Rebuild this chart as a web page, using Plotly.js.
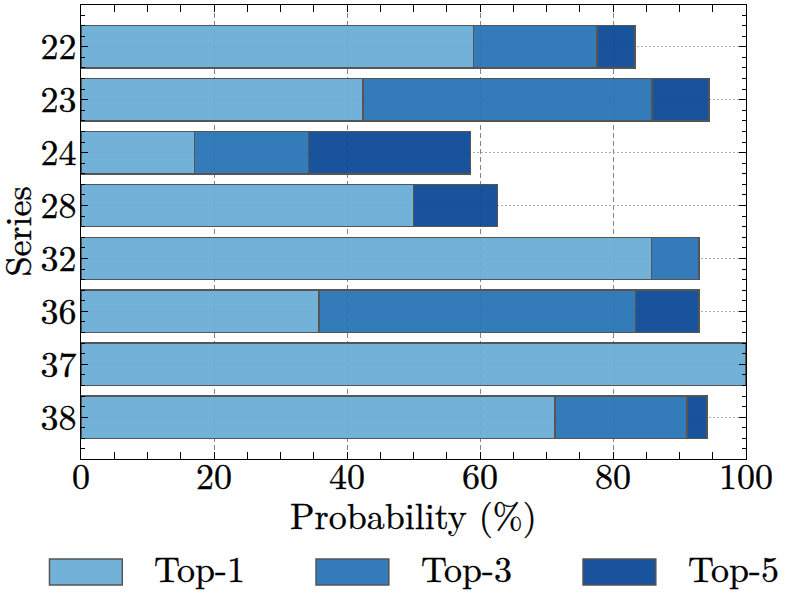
<!DOCTYPE html>
<html>
<head>
<meta charset="utf-8">
<script src="https://cdn.plot.ly/plotly-3.0.1.min.js"></script>
<style>
html,body{margin:0;padding:0;background:#fff;}
#chart{width:797px;height:611px;}
#chart text{stroke:#000;stroke-width:0.35px;}
</style>
</head>
<body>
<div id="chart"></div>
<script>
// Data
const categories = ['22', '23', '24', '28', '32', '36', '37', '38'];
const seriesNames = ['Top-1', 'Top-3', 'Top-5'];
const top1 = [59.0, 42.4, 17.1, 50.0, 85.8, 35.8, 100, 71.3];
const top3 = [18.6, 43.5, 17.1, 0, 7.1, 47.6, 0, 19.8];
const top5 = [5.7, 8.5, 24.4, 12.6, 0, 9.5, 0, 3.0];
const colors = ['rgba(107,174,214,0.95)', 'rgba(40,116,181,0.95)', 'rgba(12,74,150,0.95)'];
const xTitle = 'Probability (%)';
const yTitle = 'Series';

const values = [top1, top3, top5];
const FONT = 'Latin Modern Roman';
const FS = 36;

function draw() {
  const traces = values.map((v, i) => ({
    type: 'bar',
    orientation: 'h',
    name: seriesNames[i],
    x: v,
    y: categories,
    width: 0.8,
    marker: {color: colors[i], line: {color: '#555', width: 1.5}},
    showlegend: false,
    hoverinfo: 'x+name'
  }));

  // custom legend (large swatches like the reference)
  const legX = [-0.0474, 0.3534, 0.7549];
  const swW = 0.1095;
  const shapes = [];
  const annotations = [];
  seriesNames.forEach((n, i) => {
    shapes.push({type: 'rect', xref: 'paper', yref: 'paper',
      x0: legX[i], x1: legX[i] + swW, y0: -0.2775, y1: -0.2203,
      fillcolor: colors[i], line: {color: '#555', width: 1.5}});
    annotations.push({xref: 'paper', yref: 'paper', x: legX[i] + swW + 0.045, y: -0.237,
      xanchor: 'left', yanchor: 'middle', text: n, showarrow: false,
      font: {family: FONT, size: FS, color: '#000'}});
  });
  // axis titles
  annotations.push({xref: 'paper', yref: 'paper', x: 0.5, y: -0.121,
    xanchor: 'center', yanchor: 'middle', text: xTitle, showarrow: false,
    font: {family: FONT, size: FS, color: '#000'}});
  annotations.push({xref: 'paper', yref: 'paper', x: -0.1, y: 0.5, textangle: -90,
    xanchor: 'center', yanchor: 'middle', text: yTitle, showarrow: false,
    font: {family: FONT, size: FS, color: '#000'}});

  const layout = {
    width: 797, height: 611,
    margin: {l: 81, r: 51, t: 5, b: 152},
    paper_bgcolor: '#fff', plot_bgcolor: '#fff',
    barmode: 'stack',
    font: {family: FONT, size: FS, color: '#000'},
    xaxis: {
      range: [0, 100], dtick: 20, tick0: 0,
      ticks: 'inside', ticklen: 7, tickwidth: 1, tickcolor: '#000',
      mirror: 'allticks', showline: true, linecolor: '#000', linewidth: 1.2,
      showgrid: true, gridcolor: '#666', griddash: '5px,3px', gridwidth: 0.8,
      zeroline: false,
      minor: {dtick: 5, ticks: 'inside', ticklen: 4, tickcolor: '#000', showgrid: false},
      tickfont: {family: FONT, size: FS, color: '#000'},
      ticklabelstandoff: -14,
      automargin: false
    },
    yaxis: {
      type: 'category', range: [7.79, -0.79],
      ticks: 'inside', ticklen: 7, tickcolor: '#000',
      mirror: 'allticks', showline: true, linecolor: '#000', linewidth: 1.2,
      showgrid: true, gridcolor: '#999', griddash: '2px,2px', gridwidth: 0.8,
      zeroline: false,
      tickfont: {family: FONT, size: FS, color: '#000'},
      ticklabelstandoff: -4,
      automargin: false
    },
    yaxis2: {
      overlaying: 'y', anchor: 'x', side: 'left',
      range: [7.79, -0.79], dtick: 1, tick0: 0,
      ticks: 'inside', ticklen: 7, tickcolor: '#000',
      mirror: 'allticks', showticklabels: false, showgrid: false, zeroline: false,
      showline: false,
      minor: {dtick: 0.2, tick0: 0, ticks: 'inside', ticklen: 4, tickcolor: '#000', showgrid: false}
    },
    shapes: shapes,
    annotations: annotations
  };

  // a dummy invisible trace to activate yaxis2
  traces.push({type: 'scatter', x: [null], y: [null], yaxis: 'y2', showlegend: false, hoverinfo: 'skip'});

  Plotly.newPlot('chart', traces, layout, {displayModeBar: false, staticPlot: true});
}

if (document.fonts && document.fonts.load) {
  document.fonts.load(FS + 'px "' + FONT + '"', '0123456789Series').then(draw, draw);
} else {
  draw();
}
</script>
</body>
</html>
